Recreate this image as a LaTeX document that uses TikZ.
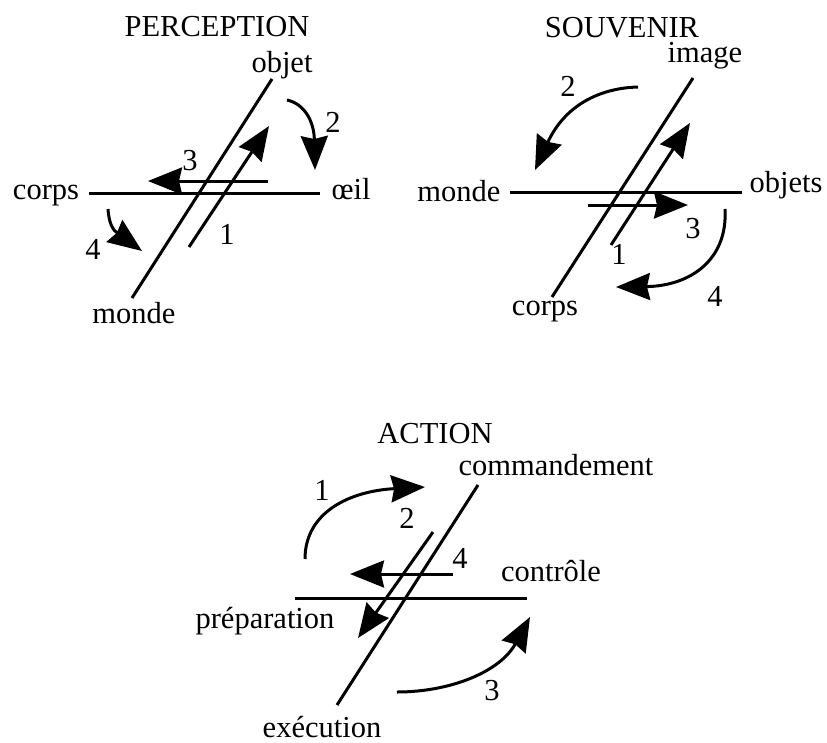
\documentclass[tikz,border=0pt]{standalone}
\usepackage{fontspec}
\setmainfont{Liberation Serif}
\usetikzlibrary{arrows.meta}
\begin{document}
\begin{tikzpicture}[x=1pt,y=-1pt,
  lbl/.style={inner sep=0pt,anchor=base,font=\fontsize{30.5}{34}\selectfont},
  ln/.style={line width=3pt},
  arr/.style={line width=3pt,-{Stealth[length=34pt,width=27pt,inset=3pt]}}]
\useasboundingbox (0,0) rectangle (827,742);
% ===== PERCEPTION =====
\node[lbl] (pt) at (217,36) {PERCEPTION};
\node[lbl] (pobjet) at (282,72) {objet};
\node[lbl] (pcorps) at (46,199) {corps};
\node[lbl] (poeil) at (351,199) {œil};
\node[lbl] (pmonde) at (134,323) {monde};
\coordinate (pd1) at (272,79); \coordinate (pd2) at (132,298);
\coordinate (ph1) at (89,193); \coordinate (ph2) at (320,193);
\draw[ln] (pd1) -- (pd2);
\draw[ln] (ph1) -- (ph2);
\coordinate (pa1s) at (189,247); \coordinate (pa1e) at (269,126);
\draw[arr] (pa1s) -- (pa1e);
\node[lbl] (pn1) at (227,244) {1};
\coordinate (pa3s) at (268,181); \coordinate (pa3e) at (148,181);
\draw[arr] (pa3s) -- (pa3e);
\node[lbl] (pn3) at (190,170) {3};
\coordinate (pa2s) at (287,100); \coordinate (pa2e) at (315,170);
\draw[arr] (pa2s) .. controls (305,104) and (314,122) .. (pa2e);
\node[lbl] (pn2) at (333,132) {2};
\coordinate (pa4s) at (108,209); \coordinate (pa4e) at (142,251);
\draw[arr] (pa4s) .. controls (109,224) and (113,230) .. (pa4e);
\node[lbl] (pn4) at (93,259) {4};
% ===== SOUVENIR =====
\node[lbl] (st) at (622,37) {SOUVENIR};
\node[lbl] (simage) at (705,62) {image};
\node[lbl] (smonde) at (459,201) {monde};
\node[lbl] (sobjets) at (786,192) {objets};
\node[lbl] (scorps) at (545,315) {corps};
\coordinate (sd1) at (693,78); \coordinate (sd2) at (552,297);
\coordinate (sh1) at (510,192); \coordinate (sh2) at (742,192);
\draw[ln] (sd1) -- (sd2);
\draw[ln] (sh1) -- (sh2);
\coordinate (sa1s) at (611,245); \coordinate (sa1e) at (690,123);
\draw[arr] (sa1s) -- (sa1e);
\node[lbl] (sn1) at (619,264) {1};
\coordinate (sa3s) at (588,205); \coordinate (sa3e) at (688,205);
\draw[arr] (sa3s) -- (sa3e);
\node[lbl] (sn3) at (693,238) {3};
\coordinate (sa2s) at (638,87); \coordinate (sa2e) at (535,170);
\draw[arr] (sa2s) .. controls (600,88) and (565,105) .. (sa2e);
\node[lbl] (sn2) at (568,96) {2};
\coordinate (sa4s) at (725,209); \coordinate (sa4e) at (616,287);
\draw[arr] (sa4s) .. controls (728,260) and (690,286) .. (sa4e);
\node[lbl] (sn4) at (715,306) {4};
% ===== ACTION =====
\node[lbl] (at) at (435,443) {ACTION};
\node[lbl] (acmd) at (556,475) {commandement};
\node[lbl] (aprep) at (265,628) {préparation};
\node[lbl] (actrl) at (551,581) {contrôle};
\node[lbl] (aexec) at (322,737) {exécution};
\coordinate (ad1) at (478,485); \coordinate (ad2) at (337,705);
\coordinate (ah1) at (295,598); \coordinate (ah2) at (527,598);
\draw[ln] (ad1) -- (ad2);
\draw[ln] (ah1) -- (ah2);
\coordinate (aa2s) at (433,532); \coordinate (aa2e) at (358,638);
\draw[arr] (aa2s) -- (aa2e);
\node[lbl] (an2) at (407,528) {2};
\coordinate (aa4s) at (453,574); \coordinate (aa4e) at (350,574);
\draw[arr] (aa4s) -- (aa4e);
\node[lbl] (an4) at (460,568) {4};
\coordinate (aa1s) at (305,559); \coordinate (aa1e) at (425,487);
\draw[arr] (aa1s) .. controls (305,512) and (350,491) .. (aa1e);
\node[lbl] (an1) at (322,500) {1};
\coordinate (aa3s) at (397,692); \coordinate (aa3e) at (530,617);
\draw[arr] (aa3s) .. controls (450,692) and (500,672) .. (aa3e);
\node[lbl] (an3) at (492,700) {3};
\end{tikzpicture}
\end{document}
